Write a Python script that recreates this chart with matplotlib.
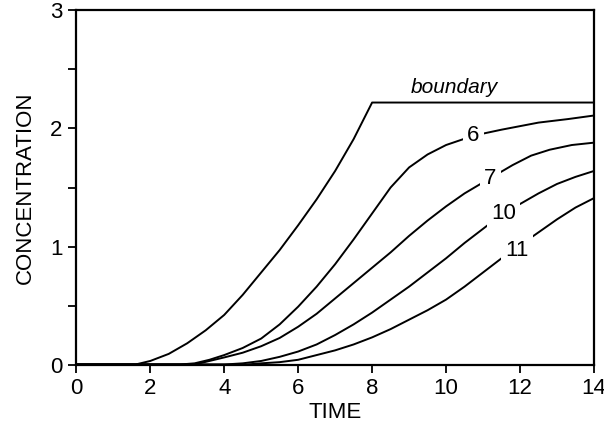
import numpy as np
import matplotlib.pyplot as plt

plt.rcParams['font.family'] = ['Liberation Sans', 'DejaVu Sans']

# boundary curve
bx = [0, 1.6, 2, 2.5, 3, 3.5, 4, 4.5, 5, 5.5, 6, 6.5, 7, 7.5, 8, 14]
by = [0, 0, 0.03, 0.09, 0.18, 0.29, 0.42, 0.59, 0.78, 0.97, 1.18, 1.4, 1.64, 1.91, 2.22, 2.22]

# curve 6
x6 = [0, 2.8, 3.2, 3.6, 4, 4.5, 5, 5.5, 6, 6.5, 7, 7.5, 8, 8.5, 9, 9.5, 10,
      10.75, 11.5, 12.5, 13.3, 14]
y6 = [0, 0, 0.01, 0.04, 0.08, 0.14, 0.22, 0.34, 0.49, 0.66, 0.85, 1.06, 1.28, 1.5, 1.67,
      1.78, 1.86, 1.94, 1.99, 2.05, 2.08, 2.11]

# curve 7
x7 = [0, 3.2, 3.6, 4, 4.5, 5, 5.5, 6, 6.5, 7, 7.5, 8, 8.5, 9, 9.5, 10, 10.5,
      11.2, 11.8, 12.3, 12.8, 13.4, 14]
y7 = [0, 0, 0.03, 0.06, 0.1, 0.155, 0.225, 0.32, 0.43, 0.56, 0.69, 0.82, 0.95, 1.09, 1.22,
      1.34, 1.45, 1.58, 1.69, 1.77, 1.82, 1.86, 1.88]

# curve 10
x10 = [0, 4, 4.5, 5, 5.5, 6, 6.5, 7, 7.5, 8, 8.5, 9, 9.5, 10, 10.5, 11, 11.5,
       12, 12.5, 13, 13.5, 14]
y10 = [0, 0, 0.01, 0.03, 0.065, 0.11, 0.17, 0.25, 0.34, 0.44, 0.55, 0.66, 0.78, 0.9,
       1.03, 1.15, 1.27, 1.36, 1.45, 1.53, 1.59, 1.64]

# curve 11
x11 = [0, 4.6, 5, 5.5, 6, 6.5, 7, 7.5, 8, 8.5, 9, 9.5, 10, 10.5, 11, 11.5, 12,
       12.5, 13, 13.5, 14]
y11 = [0, 0, 0.01, 0.02, 0.04, 0.08, 0.12, 0.17, 0.23, 0.3, 0.38, 0.46, 0.55, 0.66,
       0.78, 0.9, 1.01, 1.12, 1.23, 1.33, 1.41]

# curve labels (text, x, y)
lab_txt = ['6', '7', '10', '11']
lab_x = [10.74, 11.2, 11.55, 11.92]
lab_y = [1.94, 1.58, 1.28, 0.97]

fig = plt.figure(figsize=(6.04, 4.30), dpi=100)
ax = fig.add_axes([0.1263, 0.1523, 0.8571, 0.8233])

for xs, ys in [(bx, by), (x6, y6), (x7, y7), (x10, y10), (x11, y11)]:
    ax.plot(xs, ys, color='black', linewidth=1.4)

for t, lx, ly in zip(lab_txt, lab_x, lab_y):
    ax.text(lx, ly, t, fontsize=16, ha='center', va='center',
            bbox=dict(facecolor='white', edgecolor='none', pad=3))

ax.text(10.22, 2.3, 'boundary', fontsize=15, style='italic', ha='center', va='baseline')

ax.set_xlim(0, 14)
ax.set_ylim(0, 3)
ax.set_xticks(np.arange(0, 15, 2))
ax.set_yticks([0, 1, 2, 3])
ax.set_yticks([0.5, 1.5, 2.5], minor=True)
ax.tick_params(axis='both', which='both', direction='out', length=6, width=1.3,
               labelsize=16, pad=4)
ax.tick_params(axis='y', which='minor', length=6)
for s in ax.spines.values():
    s.set_linewidth(1.6)

ax.set_xlabel('TIME', fontsize=16, labelpad=2)
ax.set_ylabel('CONCENTRATION', fontsize=16, labelpad=10)

fig.savefig('out.png', dpi=100)
